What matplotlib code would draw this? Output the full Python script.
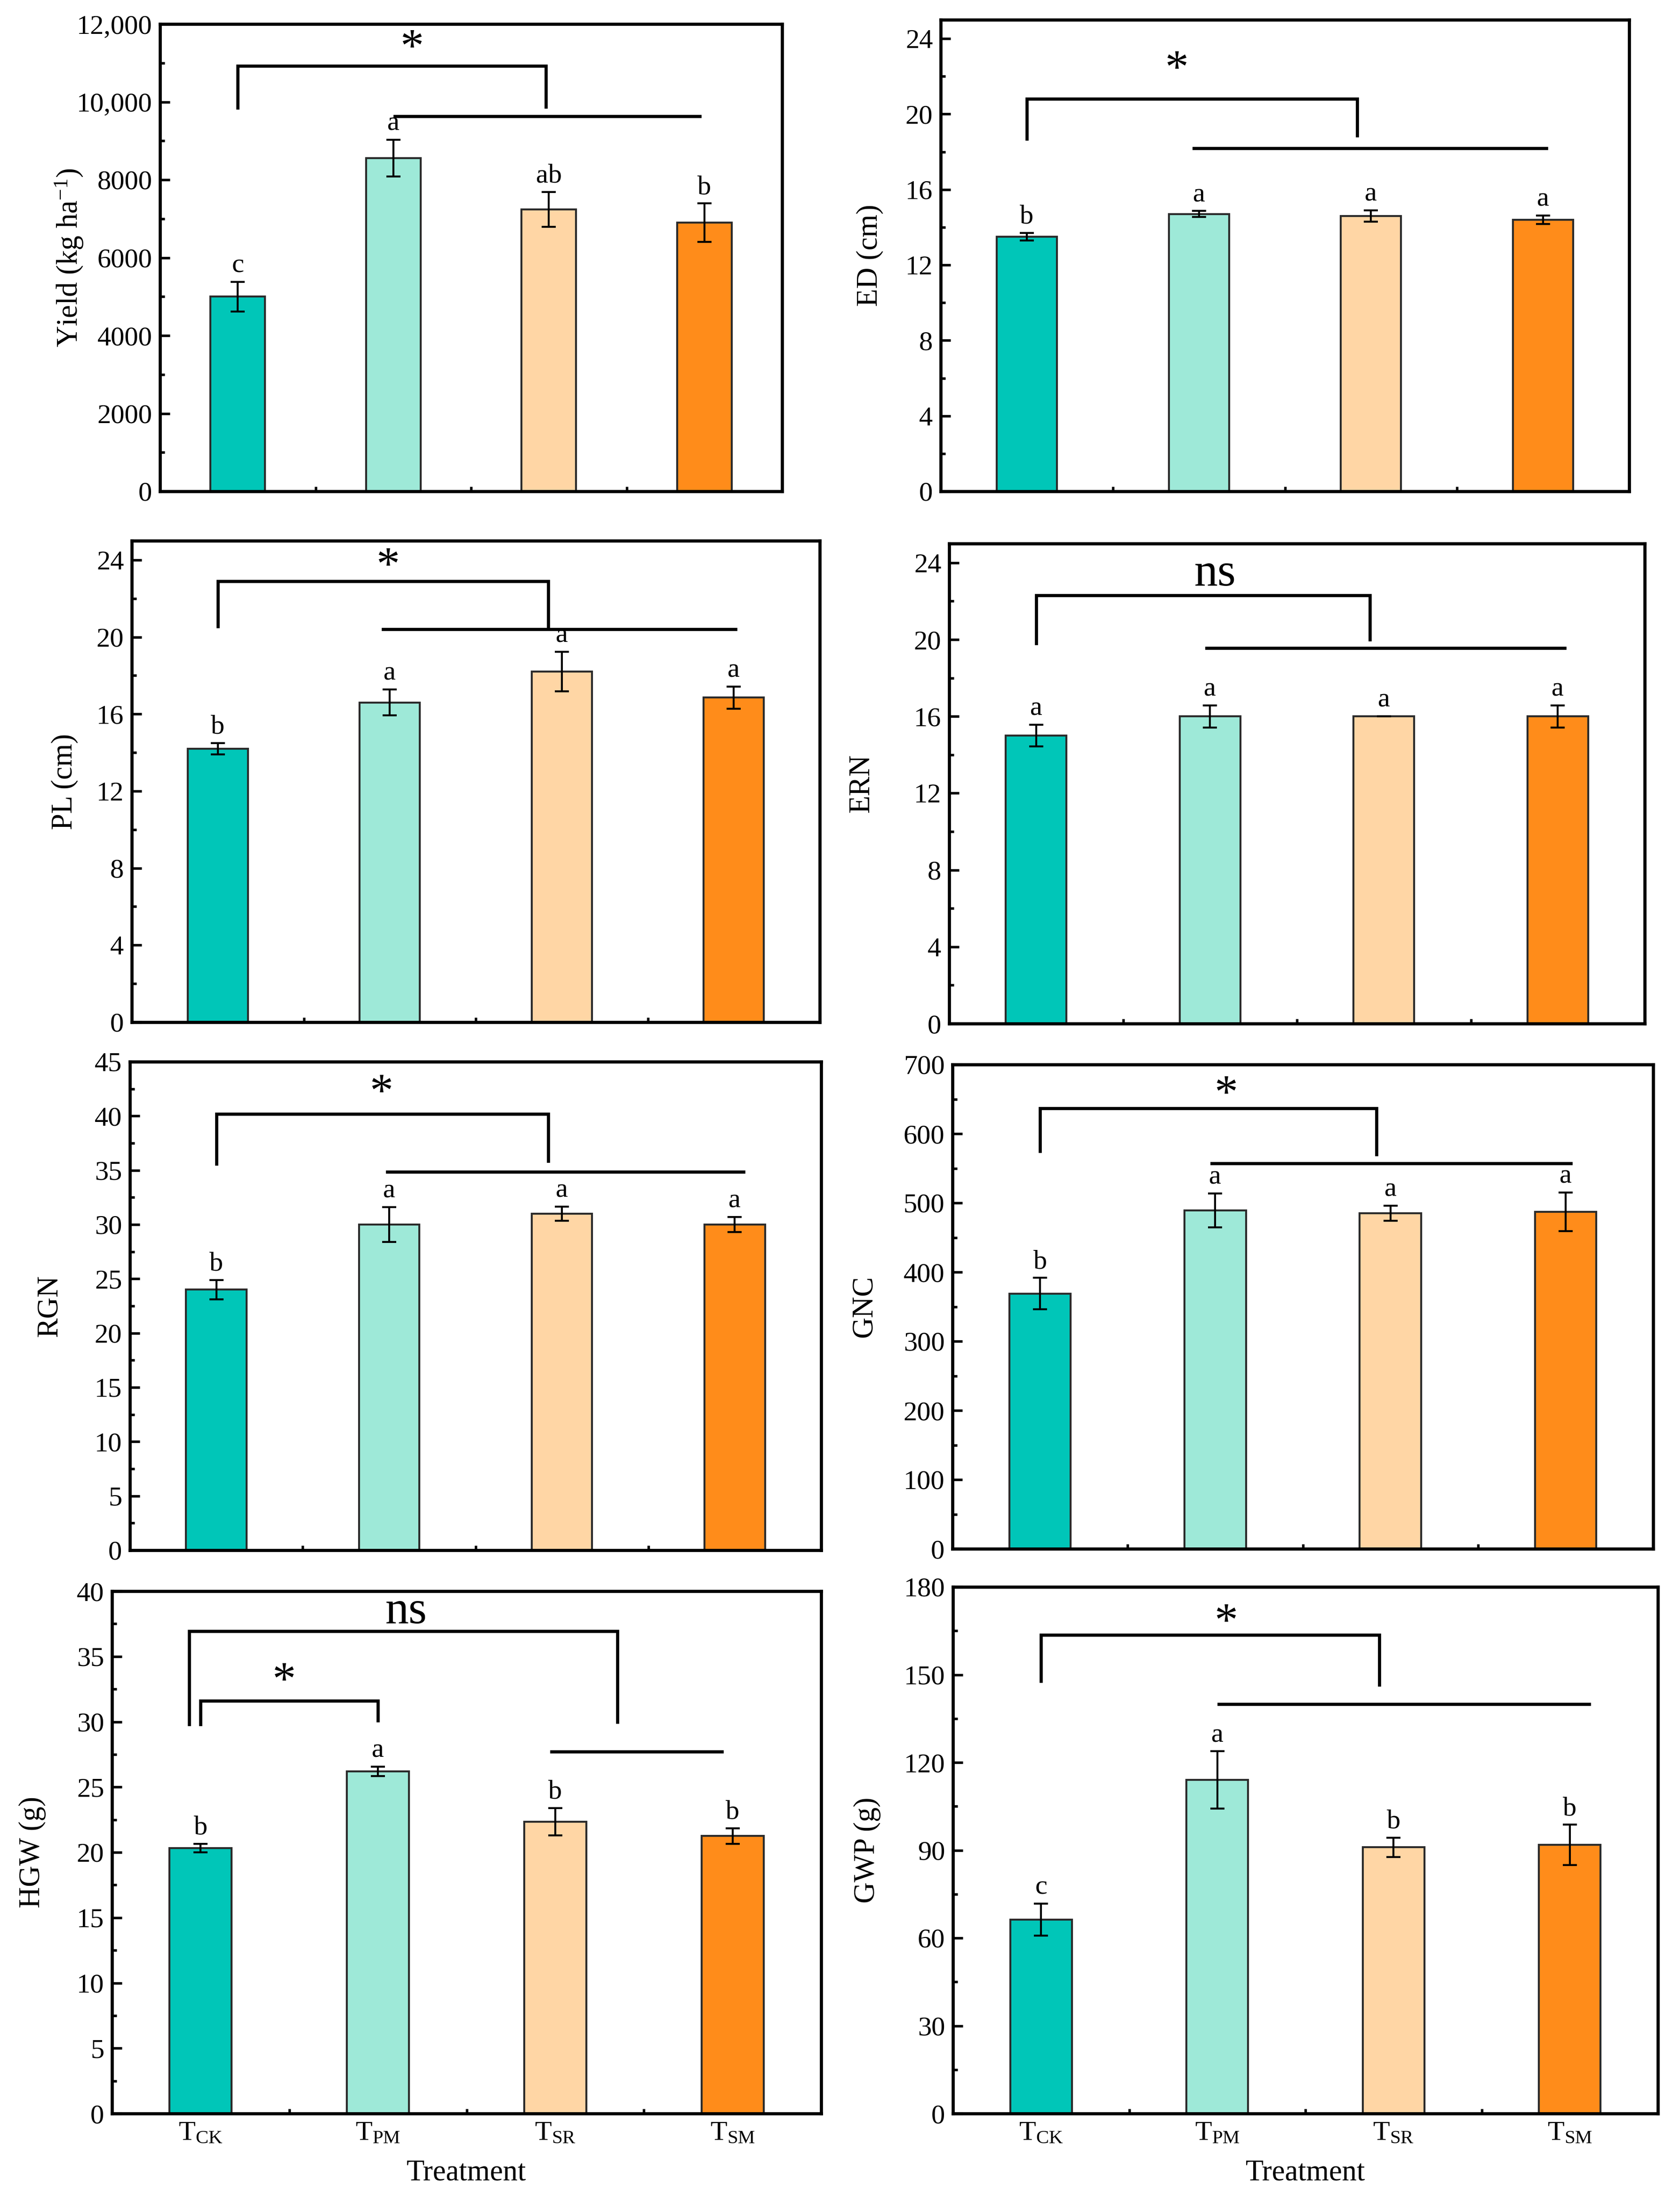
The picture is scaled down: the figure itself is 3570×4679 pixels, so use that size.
"""
Eight-panel bar chart of yield components by treatment
"""
import numpy as np
from matplotlib import pyplot as plt
from matplotlib.ticker import MultipleLocator, FuncFormatter

plt.rcParams['font.family'] = ['Liberation Serif', 'DejaVu Serif']
plt.rcParams['mathtext.fontset'] = 'custom'
plt.rcParams['mathtext.rm'] = 'Liberation Serif'
plt.rcParams['mathtext.it'] = 'Liberation Serif:italic'

FIG_W, FIG_H = 3570, 4679
DPI = 300

treatments = [r'T$_{\mathrm{CK}}$', r'T$_{\mathrm{PM}}$', r'T$_{\mathrm{SR}}$', r'T$_{\mathrm{SM}}$']
colors = ['#00C6B8', '#9EE9D8', '#FFD6A5', '#FF8C1A']

# values (mean, error, letters)
yield_mean = [5000, 8560, 7240, 6900]
yield_err = [380, 470, 450, 490]
yield_letters = ['c', 'a', 'ab', 'b']

ed_mean = [13.5, 14.7, 14.6, 14.4]
ed_err = [0.2, 0.16, 0.3, 0.23]
ed_letters = ['b', 'a', 'a', 'a']

pl_mean = [14.2, 16.6, 18.2, 16.85]
pl_err = [0.3, 0.67, 1.03, 0.58]
pl_letters = ['b', 'a', 'a', 'a']

ern_mean = [15.0, 16.0, 16.0, 16.0]
ern_err = [0.57, 0.58, 0.0, 0.58]
ern_letters = ['a', 'a', 'a', 'a']

rgn_mean = [24.0, 30.0, 31.0, 30.0]
rgn_err = [0.9, 1.6, 0.64, 0.7]
rgn_letters = ['b', 'a', 'a', 'a']

gnc_mean = [369, 489, 485, 487]
gnc_err = [22.5, 24.5, 11, 28]
gnc_letters = ['b', 'a', 'a', 'a']

hgw_mean = [20.33, 26.2, 22.35, 21.25]
hgw_err = [0.32, 0.35, 1.04, 0.6]
hgw_letters = ['b', 'a', 'b', 'b']

gwp_mean = [66.3, 114.0, 91.0, 91.8]
gwp_err = [5.5, 9.8, 3.3, 6.9]
gwp_letters = ['c', 'a', 'b', 'b']


def yield_fmt(v, pos):
    """
    Thousands separator only for five-digit labels
    """
    v = int(round(v))
    return "{:,}".format(v) if v >= 10000 else str(v)


# axes rectangles in pixels: left, right, top, bottom
PANELS = [
    dict(mean=yield_mean, err=yield_err, letters=yield_letters,
         ylabel='Yield (kg ha$^{-1}$)', ylim=(0, 12000), major=2000, minor=1000,
         rect=(340, 1662, 51, 1044), labx=-0.12, fmt=yield_fmt,
         brackets=[(0, 1.98, 9850, 10930, 9870)], lines=[(1.01, 2.97, 9630)],
         marks=[('*', 1.12, 11350, 24)]),
    dict(mean=ed_mean, err=ed_err, letters=ed_letters,
         ylabel='ED (cm)', ylim=(0, 25), major=4, minor=2,
         rect=(1999, 3462, 42, 1044), labx=-0.083,
         brackets=[(0, 1.92, 18.7, 20.8, 18.85)], lines=[(0.97, 3.02, 18.2)],
         marks=[('*', 0.87, 22.3, 24)]),
    dict(mean=pl_mean, err=pl_err, letters=pl_letters,
         ylabel='PL (cm)', ylim=(0, 25), major=4, minor=2,
         rect=(280, 1742, 1149, 2172), labx=-0.078,
         brackets=[(0, 1.92, 20.55, 22.9, 20.55)], lines=[(0.96, 3.01, 20.4)],
         marks=[('*', 0.99, 23.6, 24)]),
    dict(mean=ern_mean, err=ern_err, letters=ern_letters,
         ylabel='ERN', ylim=(0, 25), major=4, minor=2,
         rect=(2017, 3495, 1155, 2175), labx=-0.106,
         brackets=[(0, 1.92, 19.8, 22.3, 20.0)], lines=[(0.98, 3.04, 19.55)],
         marks=[('ns', 1.03, 23.4, 24)]),
    dict(mean=rgn_mean, err=rgn_err, letters=rgn_letters,
         ylabel='RGN', ylim=(0, 45), major=5, minor=2.5,
         rect=(276, 1745, 2256, 3294), labx=-0.096,
         brackets=[(0, 1.92, 35.6, 40.2, 35.85)], lines=[(0.99, 3.05, 34.85)],
         marks=[('*', 0.955, 42.0, 24)]),
    dict(mean=gnc_mean, err=gnc_err, letters=gnc_letters,
         ylabel='GNC', ylim=(0, 700), major=100, minor=50,
         rect=(2024, 3513, 2262, 3291), labx=-0.106,
         brackets=[(0, 1.92, 575, 637, 570)], lines=[(0.98, 3.03, 557)],
         marks=[('*', 1.06, 655, 24)]),
    dict(mean=hgw_mean, err=hgw_err, letters=hgw_letters,
         ylabel='HGW (g)', ylim=(0, 40), major=5, minor=2.5,
         rect=(238, 1745, 3381, 4491), labx=-0.093,
         brackets=[(-0.066, 2.35, 29.8, 36.95, 30.0), (0, 1.0, 29.8, 31.6, 30.1)],
         lines=[(1.98, 2.94, 27.7)],
         marks=[('ns', 1.16, 38.4, 24), ('*', 0.47, 33.0, 24)]),
    dict(mean=gwp_mean, err=gwp_err, letters=gwp_letters,
         ylabel='GWP (g)', ylim=(0, 180), major=30, minor=15,
         rect=(2025, 3523, 3372, 4491), labx=-0.102,
         brackets=[(0, 1.92, 147.9, 163.6, 146.5)], lines=[(1.01, 3.11, 140)],
         marks=[('*', 1.05, 167.5, 24)]),
]

fig = plt.figure(figsize=(FIG_W / DPI, FIG_H / DPI), dpi=DPI)
x = np.arange(len(treatments))

for i, p in enumerate(PANELS):
    l, r, t, b = p["rect"]
    ax = fig.add_axes([l / FIG_W, 1 - b / FIG_H, (r - l) / FIG_W, (b - t) / FIG_H])

    ax.bar(x, p["mean"], width=0.35, color=colors, edgecolor='#2b2b2b', linewidth=1.0, zorder=2)
    ax.errorbar(x, p["mean"], yerr=p["err"], fmt='none', ecolor='black',
                elinewidth=1.0, capsize=3.5, capthick=1.0, zorder=3)

    # Significance letters above each error bar
    for xi, m, e, lt in zip(x, p["mean"], p["err"], p["letters"]):
        ax.annotate(lt, (xi, m + e), xytext=(0, 2), textcoords='offset points',
                    ha='center', va='bottom', fontsize=14)

    # Brackets and group lines
    for x0, x1, y0, ytop, y1 in p["brackets"]:
        ax.plot([x0, x0, x1, x1], [y0, ytop, ytop, y1], color='black', lw=1.6,
                solid_joinstyle='miter', zorder=4)
    for x0, x1, y in p["lines"]:
        ax.plot([x0, x1], [y, y], color='black', lw=1.6, zorder=4)
    for txt, tx, ty, size in p["marks"]:
        ax.text(tx, ty, txt, ha='center', va='center', fontsize=size)

    ax.set_xlim(-0.5, 3.5)
    ax.set_ylim(*p["ylim"])
    ax.yaxis.set_major_locator(MultipleLocator(p["major"]))
    ax.yaxis.set_minor_locator(MultipleLocator(p["minor"]))
    if "fmt" in p:
        ax.yaxis.set_major_formatter(FuncFormatter(p["fmt"]))
    ax.set_xticks(x)
    ax.set_xticks([0.5, 1.5, 2.5], minor=True)
    if i >= 6:
        ax.set_xticklabels(treatments, fontsize=15)
        ax.set_xlabel("Treatment", fontsize=15, labelpad=7)
    else:
        ax.set_xticklabels([])

    ax.tick_params(which='both', direction='in', top=False, right=False, width=1.3,
                   labelsize=14, pad=4)
    ax.tick_params(which='major', length=5)
    ax.tick_params(which='minor', length=2.5)
    for s in ax.spines.values():
        s.set_linewidth(1.6)

    ax.set_ylabel(p["ylabel"], fontsize=15)
    ax.yaxis.set_label_coords(p["labx"], 0.5)

fig.savefig("out.png", dpi=DPI)
